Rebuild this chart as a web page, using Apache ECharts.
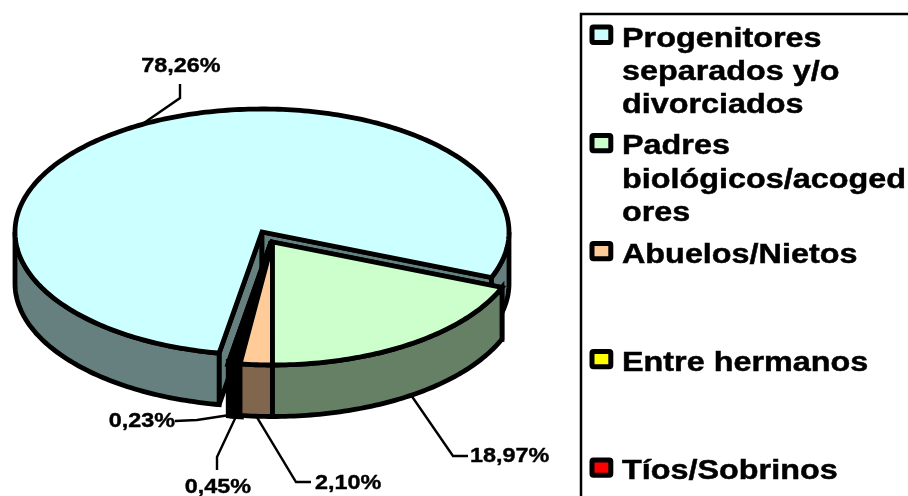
<!DOCTYPE html>
<html>
<head>
<meta charset="utf-8">
<style>html,body{margin:0;padding:0;background:#fff}#c{width:908px;height:496px}</style>
<script src="https://cdn.jsdelivr.net/npm/echarts@6/dist/echarts.min.js"></script>
</head>
<body>
<div id="c"></div>
<script>
const categories = ["Progenitores separados y/o divorciados","Padres biológicos/acogedores","Abuelos/Nietos","Entre hermanos","Tíos/Sobrinos"];
const values = [78.26,18.97,2.10,0.45,0.23];
const legendLines = [["Progenitores","separados y/o","divorciados"],["Padres","biológicos/acoged","ores"],["Abuelos/Nietos"],["Entre hermanos"],["Tíos/Sobrinos"]];
const topColors = ["#CCFFFF","#CCFFCC","#FFCC99","#FFFF00","#FF0000"];
const sideColors = ["#668080","#668066","#80664D","#808000","#800000"];

// Layout / style configuration
const FONT = '"Liberation Sans", Arial, sans-serif';
const START = 190, RX = 247, RY = 123, DEPTH = 51.5, SW = 4.8, THIN_SW = 7.4;
const centers = [[262,232],[272.5,242],[272.5,242],[272.5,242],[272.5,242]];
const drawOrder = [0,4,3,2,1];
const labelPaths = [
  {elbow:[[180,98],[180,84]], at:[181,66], align:'center'},
  {elbow:[[453,456],[468,456]], at:[470,456], align:'left'},
  {elbow:[[296,482],[311,482]], at:[315,483], align:'left'},
  {elbow:[[217,457],[217,470]], at:[218,487], align:'center'},
  {elbow:[[197,420],[175,421]], at:[175,421], align:'right'}
];
const legendRows = [
  {swatchY:24.7, baselines:[46.7,79.7,112.7]},
  {swatchY:133, baselines:[154,188,220.7]},
  {swatchY:241, baselines:[262.7]},
  {swatchY:349, baselines:[371]},
  {swatchY:457.5, baselines:[479]}
];

const total = values.reduce((a,b)=>a+b,0);
const starts = [];
values.reduce((acc,v,i)=>{starts[i]=acc;return acc+v/total*360;},START);
const rad = d=>d*Math.PI/180;
function pt(c,a,dy){return [c[0]+RX*Math.sin(rad(a)), c[1]-RY*Math.cos(rad(a))+(dy||0)];}
function arc(c,a0,a1,dy){
  const n=Math.max(2,Math.ceil(Math.abs(a1-a0)));
  const out=[];
  for(let i=0;i<=n;i++)out.push(pt(c,a0+(a1-a0)*i/n,dy));
  return out;
}
function stroke(fill,w){return {fill:fill,stroke:'#000',lineWidth:w,lineJoin:'miter',miterLimit:4};}
function label(text,x,y,align){
  return {type:'text',x:x,y:y,scaleX:1.14,silent:true,
    style:{text:text,x:0,y:0,align:align,verticalAlign:'middle',fill:'#000',stroke:'#000',lineWidth:0.4,font:'bold 20.5px '+FONT}};
}
function renderSlice(params,api){
  const i=api.value(0), v=api.value(1);
  const a0=starts[i], a1=a0+v/total*360, c=centers[i];
  const w=v<1?THIN_SW:SW;
  const ch=[];
  [a0,a1].forEach(a=>{
    const p=pt(c,a);
    ch.push({type:'polygon',shape:{points:[c,p,[p[0],p[1]+DEPTH],[c[0],c[1]+DEPTH]]},style:stroke(sideColors[i],w)});
  });
  [[90,270],[450,630]].forEach(r=>{
    const s=Math.max(a0,r[0]), e=Math.min(a1,r[1]);
    if(e>s){
      const pts=arc(c,s,e,0).concat(arc(c,e,s,DEPTH));
      ch.push({type:'polygon',shape:{points:pts},style:stroke(sideColors[i],w)});
    }
  });
  ch.push({type:'polygon',shape:{points:[c].concat(arc(c,a0,a1,0))},style:stroke(topColors[i],w)});
  const mid=(a0+a1)/2;
  const lower=Math.cos(rad(mid))<0;
  const anchor=pt(c,mid,lower?DEPTH:0);
  const lp=labelPaths[i];
  ch.push({type:'polyline',shape:{points:[anchor].concat(lp.elbow)},z2:5,style:{fill:null,stroke:'#000',lineWidth:2.4}});
  const txt=v.toFixed(2).replace('.',',')+'%';
  ch.push(Object.assign(label(txt,lp.at[0],lp.at[1],lp.align),{z2:6}));
  return {type:'group',children:ch};
}

const legendGraphics=[{type:'rect',shape:{x:581,y:14,width:360,height:520},style:{fill:'#fff',stroke:'#000',lineWidth:2.5},z:0}];
legendRows.forEach((row,i)=>{
  legendGraphics.push({type:'rect',z:1,shape:{x:592,y:row.swatchY+2.4,width:18.8,height:15.4,r:1.5},style:{fill:topColors[i],stroke:'#000',lineWidth:5}});
  legendLines[i].forEach((t,j)=>{
    legendGraphics.push({type:'text',z:1,x:622,y:row.baselines[j]-7.5,scaleX:1.135,
      style:{text:t,x:0,y:0,align:'left',verticalAlign:'middle',fill:'#000',stroke:'#000',lineWidth:0.5,font:'bold 28.5px '+FONT}});
  });
});

const chart=echarts.init(document.getElementById('c'),null,{renderer:'canvas'});
chart.setOption({
  animation:false,
  backgroundColor:'#fff',
  tooltip:{show:false},
  graphic:legendGraphics,
  series:[{
    type:'custom',
    coordinateSystem:'none',
    silent:true,
    clip:false,
    dimensions:['index','value'],
    encode:{value:1},
    data:drawOrder.map(i=>({name:categories[i],value:[i,values[i]]})),
    renderItem:renderSlice
  }]
});
</script>
</body>
</html>
